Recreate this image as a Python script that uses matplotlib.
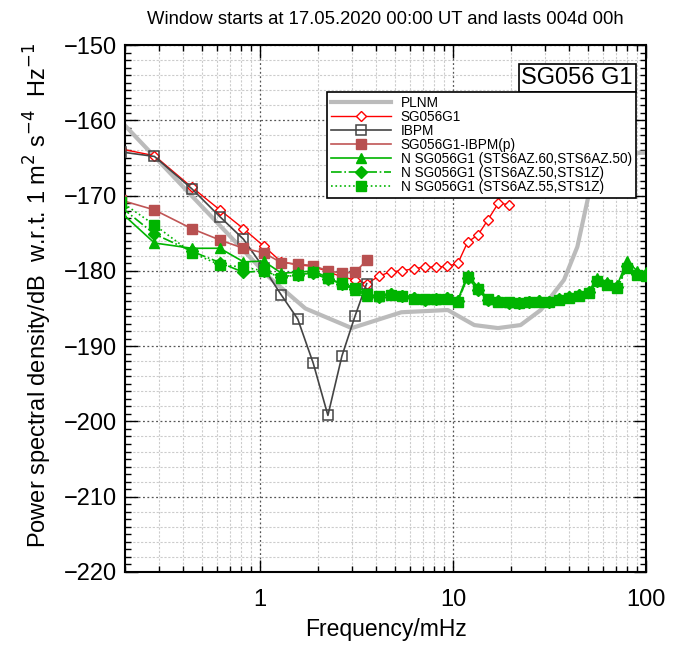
import numpy as np
import matplotlib
matplotlib.use("Agg")
import matplotlib.pyplot as plt
from matplotlib.ticker import MultipleLocator, LogLocator, FixedLocator, NullFormatter, FixedFormatter

plt.rcParams['font.family'] = ['Liberation Sans', 'DejaVu Sans']

# PLNM reference curve
plnm_f = [0.195, 1.11, 1.72, 2.99, 5.4, 9.4, 12.9, 17.1, 22.4, 28.5, 37.6, 44.1, 47.7, 51.6, 60, 100]
plnm_db = [-160.4, -180.8, -185.0, -187.6, -185.5, -185.2, -187.2, -187.6, -187.2, -185.2,
           -181.2, -176.8, -172.8, -168.8, -164.5, -164.3]

# SG056G1
sg_f = [0.19, 0.284, 0.444, 0.62, 0.822, 1.045, 1.29, 1.57, 1.89, 2.25, 2.66, 3.11, 3.57,
        4.15, 4.77, 5.46, 6.27, 7.14, 8.17, 9.31, 10.6, 11.9, 13.5, 15.1, 17.2, 19.5]
sg_db = [-163.8, -164.7, -168.9, -171.9, -174.4, -176.7, -178.8, -179.2, -179.4, -180.1, -180.8,
         -181.2, -181.7, -180.7, -180.1, -180.0, -179.7, -179.5, -179.5, -179.4, -179.0,
         -176.2, -175.2, -173.3, -171.0, -171.2]

# IBPM
ibpm_f = [0.19, 0.284, 0.444, 0.62, 0.822, 1.045, 1.29, 1.57, 1.89, 2.25, 2.66, 3.11, 3.57]
ibpm_db = [-164.2, -164.8, -169.1, -172.8, -175.8, -179.6, -183.2, -186.4, -192.3, -199.2,
           -191.3, -186.0, -181.7]

# SG056G1-IBPM(p)
diff_f = [0.19, 0.284, 0.444, 0.62, 0.822, 1.045, 1.29, 1.57, 1.89, 2.25, 2.66, 3.11, 3.57]
diff_db = [-170.6, -171.9, -174.4, -175.9, -177.0, -177.6, -178.9, -179.1, -179.3, -180.0,
           -180.3, -180.2, -178.6]

# N SG056G1 three-channel estimates
n_f = [0.19, 0.284, 0.444, 0.62, 0.822, 1.045, 1.29, 1.57, 1.89, 2.25, 2.66, 3.11, 3.57,
       4.15, 4.77, 5.46, 6.27, 7.14, 8.17, 9.31, 10.6, 11.9, 13.5, 15.1, 17.2, 19.5,
       22.1, 24.9, 28.0, 31.5, 35.5, 40.0, 45.0, 50.7, 55.9, 62.9, 70.9, 79.8, 89.9, 100]
n1_db = [-172.2, -176.3, -177.0, -177.0, -178.8, -178.7, -180.3, -180.2, -180.0, -180.9,
         -181.8, -182.5, -183.3, -183.3, -183.0, -183.2, -183.5, -183.7, -183.7, -183.5,
         -183.9, -180.5, -182.2, -183.7, -183.9, -184.1, -184.1, -184.0, -183.9, -184.0,
         -183.7, -183.4, -183.1, -182.7, -180.9, -181.5, -181.9, -178.7, -180.0, -180.2]
n2_db = [-171.5, -175.1, -177.4, -178.9, -180.2, -180.0, -180.8, -180.5, -180.3, -181.1,
         -181.7, -182.4, -183.2, -183.5, -183.1, -183.4, -183.6, -183.9, -183.8, -183.6,
         -184.0, -180.9, -182.5, -183.9, -184.0, -184.3, -184.3, -184.1, -184.0, -184.1,
         -183.8, -183.5, -183.2, -182.8, -181.3, -181.8, -182.2, -179.3, -180.4, -180.6]
n3_db = [-170.8, -173.9, -177.6, -179.2, -179.5, -180.0, -180.9, -180.5, -180.2, -181.0,
         -181.6, -182.3, -183.1, -183.4, -183.2, -183.3, -183.7, -183.8, -183.8, -183.7,
         -184.1, -180.8, -182.4, -183.8, -184.1, -184.2, -184.3, -184.2, -184.1, -184.2,
         -183.9, -183.6, -183.3, -183.0, -181.4, -181.9, -182.3, -179.6, -180.6, -180.7]

green = '#00b400'

fig = plt.figure(figsize=(6.82, 6.45), dpi=100)
ax = fig.add_axes([0.1833, 0.1132, 0.7639, 0.8170])

ax.plot(plnm_f, plnm_db, color='#bbbbbb', lw=3, label='PLNM', zorder=2)
ax.plot(sg_f, sg_db, color='#ff0000', lw=1, marker='D', ms=5, mfc='white', mec='#ff0000',
        mew=1, label='SG056G1', zorder=3)
ax.plot(ibpm_f, ibpm_db, color='#444444', lw=1.2, marker='s', ms=6.5, mfc='none', mec='#444444',
        mew=1.1, label='IBPM', zorder=4)
ax.plot(diff_f, diff_db, color='#c05555', lw=1.2, marker='s', ms=6.5, mfc='#b85050', mec='#b85050',
        label='SG056G1-IBPM(p)', zorder=5)
ax.plot(n_f, n1_db, color=green, lw=1.2, ls='-', marker='^', ms=7, mfc=green, mec=green,
        label='N SG056G1 (STS6AZ.60,STS6AZ.50)', zorder=6)
ax.plot(n_f, n2_db, color=green, lw=1.2, ls='-.', marker='D', ms=6, mfc=green, mec=green,
        label='N SG056G1 (STS6AZ.50,STS1Z)', zorder=6)
ax.plot(n_f, n3_db, color=green, lw=1.2, ls=':', marker='s', ms=6.5, mfc=green, mec=green,
        label='N SG056G1 (STS6AZ.55,STS1Z)', zorder=6)

ax.set_xscale('log')
ax.set_xlim(0.2, 100)
ax.set_ylim(-220, -150)

ax.xaxis.set_major_locator(FixedLocator([1, 10, 100]))
ax.xaxis.set_major_formatter(FixedFormatter(['1', '10', '100']))
ax.xaxis.set_minor_locator(LogLocator(base=10, subs=np.arange(2, 10), numticks=20))
ax.xaxis.set_minor_formatter(NullFormatter())
ax.yaxis.set_major_locator(MultipleLocator(10))
ax.yaxis.set_minor_locator(MultipleLocator(1))

ax.tick_params(which='both', direction='in', top=True, right=True, width=1)
ax.tick_params(which='major', length=9, labelsize=17, pad=6)
ax.tick_params(axis='x', which='major', pad=12)
ax.tick_params(which='minor', length=4)

# grid: light dashed every 2 dB and at log sub-decades, darker dotted at majors
for v in np.arange(-218, -150, 2):
    if v % 10 != 0:
        ax.axhline(v, color='#cccccc', lw=0.8, ls=(0, (2, 1.5)), zorder=0)
ax.grid(which='minor', axis='x', color='#cccccc', lw=0.8, ls=(0, (2, 1.5)), zorder=0)
ax.grid(which='major', color='#555555', lw=0.9, ls=(0, (1.5, 2)), zorder=1)

for sp in ax.spines.values():
    sp.set_linewidth(1.5)

ax.set_xlabel('Frequency/mHz', fontsize=16.5)
ax.xaxis.set_label_coords(0.5, -0.088)
ax.set_ylabel('Power spectral density/dB  w.r.t. 1 m$^2$ s$^{-4}$  Hz$^{-1}$', fontsize=17)
ax.yaxis.set_label_coords(-0.137, 0.525)

fig.text(0.565, 0.970, 'Window starts at 17.05.2020 00:00 UT and lasts 004d 00h',
         ha='center', va='center', fontsize=13.3)

ax.text(0.975, 0.958, 'SG056 G1', transform=ax.transAxes, ha='right', va='top', fontsize=17,
        bbox=dict(boxstyle='square,pad=0.12', fc='white', ec='black', lw=1.2), zorder=10)

leg = ax.legend(loc='upper right', bbox_to_anchor=(0.981, 0.911), fontsize=9.8, frameon=True,
                fancybox=False, edgecolor='black', framealpha=1, handlelength=4.4,
                labelspacing=0.0, borderpad=0.3, borderaxespad=0, handletextpad=0.7)
leg.get_frame().set_linewidth(1.2)
leg.set_zorder(10)

fig.savefig('out.png', dpi=100)
